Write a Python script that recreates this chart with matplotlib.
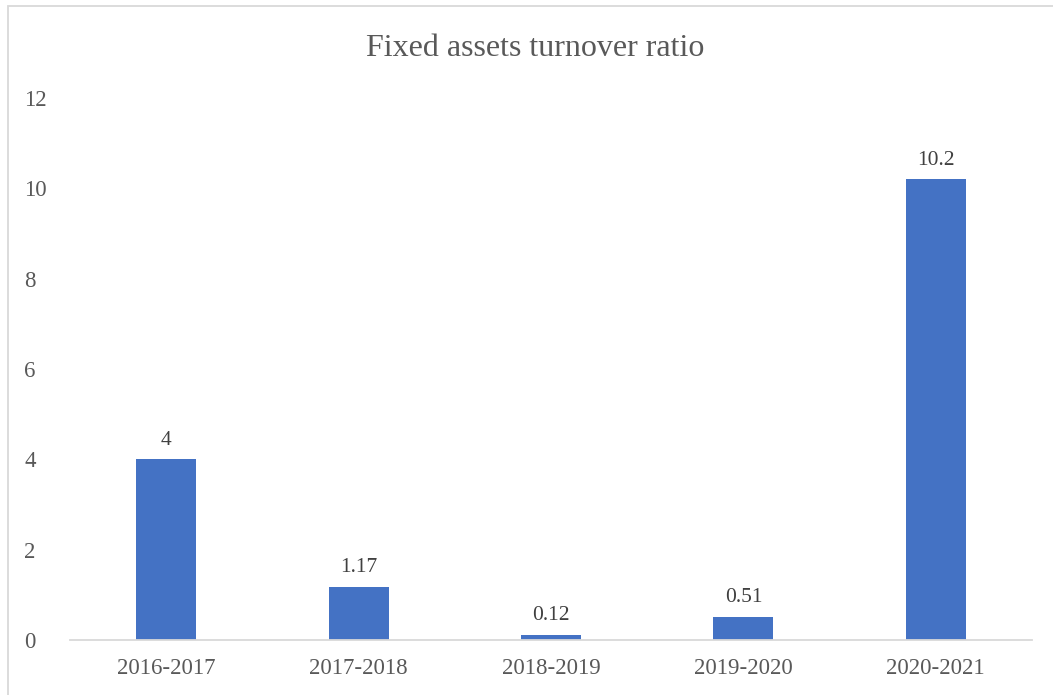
import matplotlib
matplotlib.use("Agg")
import matplotlib.pyplot as plt
from matplotlib.patches import Rectangle

periods = ["2016-2017", "2017-2018", "2018-2019", "2019-2020", "2020-2021"]
ratios = [4, 1.17, 0.12, 0.51, 10.2]
value_labels = ["4", "1.17", "0.12", "0.51", "10.2"]
y_ticks = [0, 2, 4, 6, 8, 10, 12]

plt.rcParams["font.family"] = ["Liberation Serif", "DejaVu Serif"]
text_color = "#595959"
line_color = "#d9d9d9"
bar_color = "#4472c4"

W, H = 1053, 695
fig = plt.figure(figsize=(W / 100, H / 100), dpi=100)
fig.patch.set_facecolor("white")

# chart-area frame (left and top edges visible)
frame = Rectangle((8 / W, -0.05), 1.2, (H - 6) / H + 0.05,
                  transform=fig.transFigure, fill=False,
                  edgecolor=line_color, linewidth=1.3, clip_on=False)
fig.patches.append(frame)

left, right = 70 / W, 1032 / W
bottom, top = (H - 640) / H, (H - 98) / H
ax = fig.add_axes([left, bottom, right - left, top - bottom])

x = range(len(periods))
bars = ax.bar(x, ratios, width=0.312, color=bar_color, zorder=2)
ax.set_xlim(-0.5, len(periods) - 0.5)
ax.set_ylim(0, 12)
ax.set_yticks(y_ticks)
ax.set_yticklabels([str(t) for t in y_ticks])
ax.set_xticks(list(x))
ax.set_xticklabels(periods)

for spine in ["top", "right", "left"]:
    ax.spines[spine].set_visible(False)
ax.spines["bottom"].set_color(line_color)
ax.spines["bottom"].set_linewidth(1.3)

ax.tick_params(axis="both", length=0, labelsize=16.5, colors=text_color)
ax.tick_params(axis="x", pad=13)
ax.tick_params(axis="y", pad=33)
for lbl in ax.get_yticklabels():
    lbl.set_horizontalalignment("left")

for bar, lab in zip(bars, value_labels):
    ax.annotate(lab, (bar.get_x() + bar.get_width() / 2, bar.get_height()),
                xytext=(0, 7), textcoords="offset points",
                ha="center", va="bottom", fontsize=15.5, color="#404040")

fig.text(535 / W, 1 - 48 / H, "Fixed assets turnover ratio",
         ha="center", va="center", fontsize=23, color=text_color)

fig.savefig("out.png", dpi=100, facecolor="white")
